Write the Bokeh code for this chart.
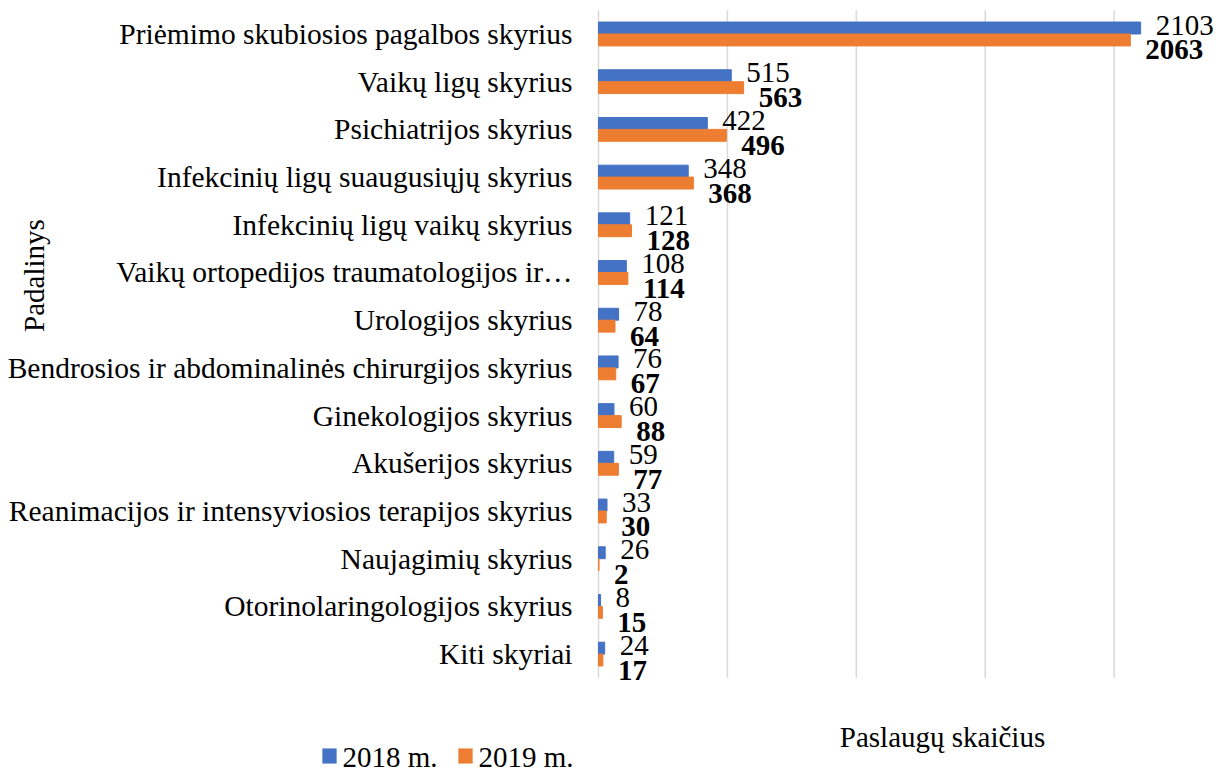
from bokeh.plotting import figure
from bokeh.models import Range1d, ColumnDataSource, Label
from bokeh.transform import dodge
from bokeh.core.properties import value
from bokeh.embed import file_html
from bokeh.resources import INLINE
import math

categories = [
    "Priėmimo skubiosios pagalbos skyrius",
    "Vaikų ligų skyrius",
    "Psichiatrijos skyrius",
    "Infekcinių ligų suaugusiųjų skyrius",
    "Infekcinių ligų vaikų skyrius",
    "Vaikų ortopedijos traumatologijos ir…",
    "Urologijos skyrius",
    "Bendrosios ir abdominalinės chirurgijos skyrius",
    "Ginekologijos skyrius",
    "Akušerijos skyrius",
    "Reanimacijos ir intensyviosios terapijos skyrius",
    "Naujagimių skyrius",
    "Otorinolaringologijos skyrius",
    "Kiti skyriai",
]
values_2018 = [2103, 515, 422, 348, 121, 108, 78, 76, 60, 59, 33, 26, 8, 24]
values_2019 = [2063, 563, 496, 368, 128, 114, 64, 67, 88, 77, 30, 2, 15, 17]
series_names = ["2018 m.", "2019 m."]
grid_ticks = [0, 500, 1000, 1500, 2000]
x_title = "Paslaugų skaičius"
y_title = "Padalinys"

FONT = "Liberation Serif"
BLUE = "#4472C4"
ORANGE = "#ED7D31"
series_colors = [BLUE, ORANGE]

n = len(categories)
src = ColumnDataSource(dict(
    idx=list(range(n)),
    cat=categories,
    zero=[0] * n,
    v2018=values_2018,
    v2019=values_2019,
    l2018=[str(v) for v in values_2018],
    l2019=[str(v) for v in values_2019],
))

# frame covers the whole canvas; category 0 on top (flipped y range)
p = figure(width=1230, height=774,
           x_range=Range1d(-2319.6, 2451.5),
           y_range=Range1d(15.524, -0.702),
           output_backend="svg", toolbar_location=None,
           min_border_left=0, min_border_right=0,
           min_border_top=0, min_border_bottom=0)
p.outline_line_color = None
p.background_fill_color = "white"
p.xaxis.visible = False
p.yaxis.visible = False
p.xgrid.visible = False
p.ygrid.visible = False

# vertical gridlines over the category band
p.segment(x0=grid_ticks, x1=grid_ticks, y0=[-0.5] * len(grid_ticks),
          y1=[n - 0.5] * len(grid_ticks), line_color="#d9d9d9", line_width=1.5)

y_a = dodge("idx", -0.125)
y_b = dodge("idx", 0.125)

p.hbar(y=y_a, left=0, right="v2018", height=0.25, source=src,
       fill_color=BLUE, line_color=BLUE)
p.hbar(y=y_b, left=0, right="v2019", height=0.25, source=src,
       fill_color=ORANGE, line_color=ORANGE)

# category labels
p.text(x="zero", y="idx", text="cat", source=src, x_offset=-26,
       text_font=value(FONT), text_font_size="29.5px", text_color="black",
       text_baseline="middle", text_align="right")

# data labels
p.text(x="v2018", y=y_a, text="l2018", source=src, x_offset=15, y_offset=-3,
       text_font=value(FONT), text_font_size="29px", text_color="black",
       text_baseline="middle", text_align="left")
p.text(x="v2019", y=y_b, text="l2019", source=src, x_offset=15, y_offset=10,
       text_font=value(FONT), text_font_size="29px", text_color="black",
       text_font_style="bold", text_baseline="middle", text_align="left")

# legend
legend_x = [329, 465]
for name, color, lx in zip(series_names, series_colors, legend_x):
    p.add_layout(Label(x=lx, y=18.5, x_units="screen", y_units="screen", text=" ",
                       text_font_size="1px", padding=7,
                       background_fill_color=color, text_align="center",
                       text_baseline="middle"))
    p.add_layout(Label(x=lx + 13, y=18, x_units="screen", y_units="screen",
                       text=name, text_font=FONT, text_font_size="29px",
                       text_color="black", text_align="left",
                       text_baseline="middle"))

p.add_layout(Label(x=942, y=37.5, x_units="screen", y_units="screen", text=x_title,
                   text_font=FONT, text_font_size="29px", text_color="black",
                   text_align="center", text_baseline="middle"))
p.add_layout(Label(x=33, y=499, x_units="screen", y_units="screen", text=y_title,
                   angle=math.pi / 2,
                   text_font=FONT, text_font_size="29px", text_color="black",
                   text_align="center", text_baseline="middle"))

open("out.html", "w").write(file_html(p, INLINE))
